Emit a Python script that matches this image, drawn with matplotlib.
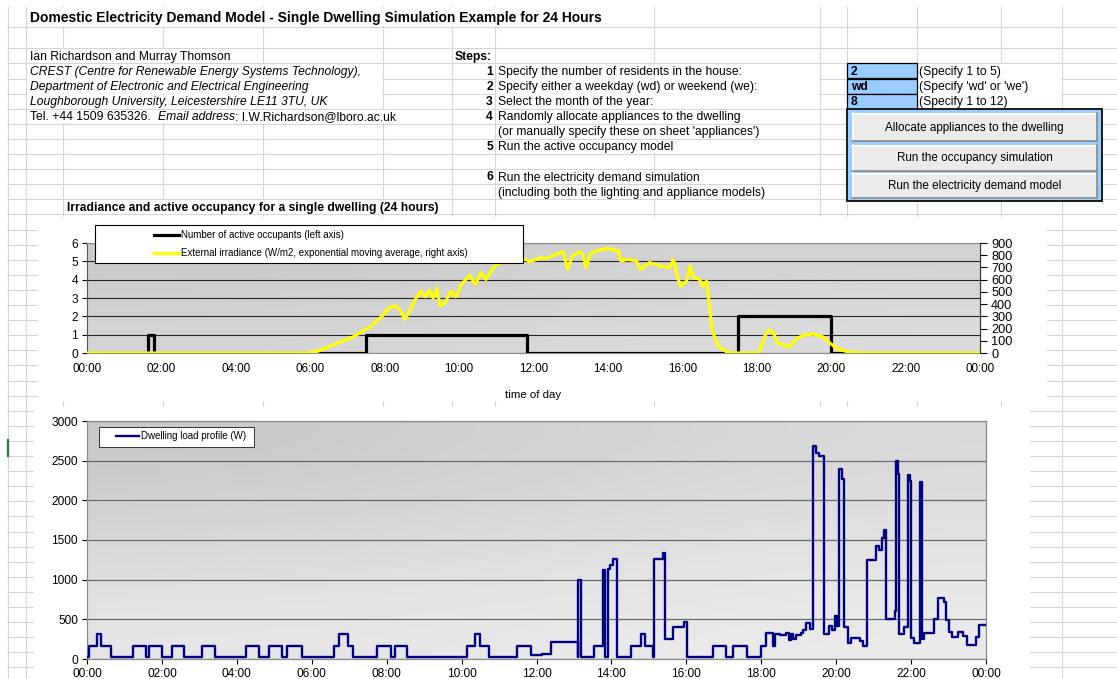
import numpy as np
import matplotlib
matplotlib.use("Agg")
import matplotlib.pyplot as plt
from matplotlib.patches import Rectangle
from matplotlib.lines import Line2D

plt.rcParams["font.family"] = ["Liberation Sans", "DejaVu Sans"]

W, H = 1117, 679

# x axis: hour of day
hour_ticks = list(range(0, 25, 2))
hour_labels = ["00:00", "02:00", "04:00", "06:00", "08:00", "10:00", "12:00",
               "14:00", "16:00", "18:00", "20:00", "22:00", "00:00"]

# number of active occupants (step changes, hours)
occ_t = [0.0, 1.63, 1.80, 7.50, 11.83, 17.50, 20.00, 24.0]
occ_n = [0, 1, 0, 1, 0, 2, 0, 0]

# external irradiance, W/m2
irr_t = [0.0, 5.9, 6.2, 6.6, 7.16, 7.64, 7.92, 8.11, 8.30, 8.44, 8.54, 8.63, 8.82,
         8.97, 9.10, 9.20, 9.30, 9.40, 9.49, 9.63, 9.77, 9.91, 10.06, 10.29, 10.44,
         10.58, 10.72, 10.96, 11.24, 11.43, 11.72, 11.90, 12.19, 12.35, 12.55, 12.79,
         12.92, 13.04, 13.24, 13.33, 13.41, 13.53, 13.68, 13.98, 14.28, 14.35, 14.52,
         14.77, 14.87, 15.12, 15.41, 15.66, 15.76, 15.86, 15.96, 16.11, 16.21, 16.30,
         16.45, 16.55, 16.65, 16.72, 16.80, 16.95, 17.19, 17.39, 18.05, 18.23, 18.33,
         18.43, 18.58, 18.88, 19.07, 19.27, 19.52, 19.77, 19.96, 20.16, 20.46, 20.85,
         24.0]
irr_w = [0, 0, 14, 64, 133, 221, 298, 367, 387, 340, 276, 320, 437,
         506, 459, 514, 450, 533, 387, 414, 506, 459, 561, 636, 561,
         658, 602, 713, 754, 774, 780, 746, 780, 773, 800, 831,
         684, 795, 828, 809, 698, 809, 836, 856, 836, 753, 767,
         753, 684, 740, 712, 698, 767, 629, 546, 588, 712, 615,
         607, 546, 588, 408, 188, 63, 8, 0, 0, 146, 188,
         174, 77, 50, 119, 146, 155, 132, 83, 36, 8, 0,
         0]

# dwelling load profile, W (step changes, hours)
load_t = [0.00, 0.05, 0.26, 0.38, 0.64, 1.24, 1.57, 1.65, 2.00, 2.27, 2.60, 3.08,
          3.43, 4.24, 4.59, 4.86, 5.21, 5.33, 5.73, 6.60, 6.73, 6.97, 7.10, 7.74,
          8.12, 8.21, 8.55, 10.14, 10.36, 10.48, 10.73, 11.48, 11.84, 12.14, 12.38,
          13.10, 13.12, 13.18, 13.54, 13.77, 13.83, 13.90, 13.96, 14.03, 14.15, 14.51,
          14.79, 14.89, 15.11, 15.15, 15.38, 15.44, 15.65, 15.95, 16.02, 16.71, 17.05,
          17.25, 17.62, 17.99, 18.14, 18.31, 18.36, 18.50, 18.65, 18.73, 18.80, 18.86,
          18.94, 19.05, 19.12, 19.20, 19.30, 19.39, 19.47, 19.54, 19.67, 19.82, 19.88,
          19.96, 20.03, 20.07, 20.16, 20.21, 20.31, 20.40, 20.63, 20.71, 20.82, 21.07,
          21.14, 21.22, 21.27, 21.34, 21.56, 21.60, 21.64, 21.68, 21.82, 21.93, 21.97,
          21.99, 22.07, 22.23, 22.28, 22.35, 22.62, 22.72, 22.87, 22.93, 23.01, 23.09,
          23.25, 23.38, 23.50, 23.72, 23.80, 24.00]
load_w = [30, 170, 316, 170, 30, 170, 30, 170, 30, 170, 30, 170,
          30, 170, 30, 170, 30, 170, 30, 170, 316, 170, 30, 170,
          30, 170, 30, 170, 316, 170, 30, 170, 45, 65, 210,
          30, 1000, 30, 165, 1120, 30, 1130, 1180, 1260, 30, 165,
          310, 165, 30, 1260, 1330, 250, 400, 470, 30, 165, 30,
          165, 30, 165, 330, 170, 320, 300, 330, 240, 320, 250,
          300, 330, 360, 450, 380, 2680, 2600, 2560, 320, 420, 360,
          540, 420, 2400, 2270, 400, 200, 260, 230, 160, 1250, 1420,
          1380, 1530, 1620, 500, 600, 2490, 2330, 320, 400, 2320, 2250,
          270, 200, 2230, 250, 330, 500, 770, 720, 490, 340, 280,
          340, 290, 180, 280, 430, 430]

# spreadsheet layout (pixels)
grid_c = "#d6d6d6"
row_lines = [27] + [48.3 + 15.1 * k for k in range(42)]
col_lines = [8, 26, 63, 163, 263, 383, 452, 495, 654, 820, 847, 917, 1001, 1062]


def row_y(k):
    # vertical centre of spreadsheet row k (k=0 -> "Ian Richardson" row)
    return 48.3 + 15.1 * k + 8.4


def fx(x):
    return x / W


def fy(y):
    return 1 - y / H


fig = plt.figure(figsize=(W / 100, H / 100), dpi=100)
bg = fig.add_axes([0, 0, 1, 1])
bg.set_xlim(0, W)
bg.set_ylim(H, 0)
bg.axis("off")

for y in row_lines:
    bg.plot([8, W], [y, y], color=grid_c, lw=0.8, zorder=1)
for x in col_lines:
    bg.plot([x, x], [7, H], color=grid_c, lw=0.8, zorder=1)

# cells whose text spills over into the next columns hide the gridlines
spill = [(26, 654, 7, 27), (26, 263, 48.3, 63.4), (26, 383, 63.4, 78.5),
         (26, 383, 78.5, 93.6), (26, 383, 93.6, 108.7), (26, 452, 108.7, 123.8)]
for k in [1, 2, 3, 4, 5, 6, 8, 9]:
    spill.append((495, 820, 48.3 + 15.1 * k, 48.3 + 15.1 * (k + 1)))
for k in [1, 2, 3]:
    spill.append((917, 1062, 48.3 + 15.1 * k, 48.3 + 15.1 * (k + 1)))
spill.append((63, 452, 199.3, 214.4))
for x0, x1, y0, y1 in spill:
    bg.add_patch(Rectangle((x0 + 0.8, y0 + 0.8), x1 - x0 - 1.6, y1 - y0 - 1.6,
                           fc="white", lw=0, zorder=2))

fs = 8.7
bg.text(30, 18, "Domestic Electricity Demand Model - Single Dwelling Simulation Example for 24 Hours",
        fontsize=10.0, fontweight="bold", va="center", zorder=5)
bg.text(30, row_y(0), "Ian Richardson and Murray Thomson", fontsize=fs, va="center", zorder=5)
bg.text(30, row_y(1), "CREST (Centre for Renewable Energy Systems Technology),",
        fontsize=fs, style="italic", va="center", zorder=5)
bg.text(30, row_y(2), "Department of Electronic and Electrical Engineering",
        fontsize=fs, style="italic", va="center", zorder=5)
bg.text(30, row_y(3), "Loughborough University, Leicestershire LE11 3TU, UK",
        fontsize=fs, style="italic", va="center", zorder=5)

# the contact line mixes upright and italic runs: chain them one after another
renderer = fig.canvas.get_renderer()
x_run = 30
for part, st in [("Tel. +44 1509 635326. ", "normal"), ("Email address", "italic"),
                 (": I.W.Richardson@lboro.ac.uk", "normal")]:
    t = bg.text(x_run, row_y(4), part, fontsize=fs, style=st, va="center", zorder=5)
    x_run = t.get_window_extent(renderer).x1 + (4 if part.endswith(" ") else 0)

bg.text(455, row_y(0), "Steps:", fontsize=fs, fontweight="bold", va="center", zorder=5)
steps = [(1, "1", "Specify the number of residents in the house:"),
         (2, "2", "Specify either a weekday (wd) or weekend (we):"),
         (3, "3", "Select the month of the year:"),
         (4, "4", "Randomly allocate appliances to the dwelling"),
         (5, "", "(or manually specify these on sheet 'appliances')"),
         (6, "5", "Run the active occupancy model"),
         (8, "6", "Run the electricity demand simulation"),
         (9, "", "(including both the lighting and appliance models)")]
for k, num, txt in steps:
    if num:
        bg.text(493, row_y(k), num, fontsize=fs, fontweight="bold", ha="right",
                va="center", zorder=5)
    bg.text(498, row_y(k), txt, fontsize=fs, va="center", zorder=5)

cell_blue = "#99ccff"
inputs = [(1, "2", "(Specify 1 to 5)"), (2, "wd", "(Specify 'wd' or 'we')"),
          (3, "8", "(Specify 1 to 12)")]
for k, val, hint in inputs:
    y0 = 48.3 + 15.1 * k
    bg.add_patch(Rectangle((847, y0), 70, 15.1, fc=cell_blue, ec="black", lw=0.9, zorder=4))
    bg.text(851, row_y(k), val, fontsize=fs, fontweight="bold", va="center", zorder=5)
    bg.text(919, row_y(k), hint, fontsize=fs, va="center", zorder=5)

# macro button panel
bg.add_patch(Rectangle((847, 109), 255, 92, fc=cell_blue, ec="#1a1a1a", lw=1.4, zorder=4))
buttons = [(113, 141, "Allocate appliances to the dwelling"),
           (145, 171, "Run the occupancy simulation"),
           (173, 198, "Run the electricity demand model")]
for y0, y1, label in buttons:
    bg.add_patch(Rectangle((852, y0), 245, y1 - y0, fc="#ebebeb", ec="none", zorder=5))
    bg.plot([852, 1097], [y0 + 0.5, y0 + 0.5], color="white", lw=1.2, zorder=6)
    bg.plot([852.5, 852.5], [y0, y1], color="white", lw=1.2, zorder=6)
    bg.plot([852, 1097], [y1 - 0.5, y1 - 0.5], color="#8a8a8a", lw=1.2, zorder=6)
    bg.plot([1096.5, 1096.5], [y0, y1], color="#8a8a8a", lw=1.2, zorder=6)
    bg.text(974.5, (y0 + y1) / 2 + 0.5, label, fontsize=8.4, ha="center", va="center", zorder=7)

bg.text(67, 207.5, "Irradiance and active occupancy for a single dwelling (24 hours)",
        fontsize=fs, fontweight="bold", va="center", zorder=5)

# chart areas
bg.add_patch(Rectangle((38, 217), 1009, 184, fc="white", lw=0, zorder=3))
bg.add_patch(Rectangle((34, 407), 996, 280, fc="white", lw=0, zorder=3))
bg.plot([8, 8], [440, 456], color="#1d7a45", lw=1.6, zorder=4)

# ---- top chart: occupancy + irradiance ----
ax1 = fig.add_axes([fx(87), fy(353), fx(980 - 87), (353 - 243) / H])
ax1.imshow([[0.79, 0.83], [0.83, 0.86]], cmap="gray", vmin=0, vmax=1,
           extent=(0, 24, 0, 6), aspect="auto", interpolation="bicubic", zorder=0)
ax1.step(occ_t, occ_n, where="post", color="black", lw=2.3, zorder=3)
ax1.set_xlim(0, 24)
ax1.set_ylim(0, 6)
ax1.set_yticks(range(7))
ax1.set_xticks(hour_ticks)
ax1.set_xticklabels(hour_labels)
ax1.yaxis.grid(True, color="#262626", lw=0.8)
ax1.set_axisbelow(True)
ax1.tick_params(axis="y", direction="out", length=3.5, width=0.8, labelsize=8.6, pad=3)
ax1.tick_params(axis="x", length=0, labelsize=8.4, pad=7)
for s in ax1.spines.values():
    s.set_color("#8c8c8c")
    s.set_linewidth(0.8)
ax1.spines["left"].set_color("#555555")
ax1.set_xlabel("time of day", fontsize=8.2, labelpad=11)

ax1r = ax1.twinx()
ax1r.plot(irr_t, irr_w, color="#ffff00", lw=2.3, solid_joinstyle="round", zorder=3)
ax1r.set_ylim(0, 900)
ax1r.set_yticks(range(0, 901, 100))
ax1r.tick_params(axis="y", direction="out", length=5, width=0.8, labelsize=9.2, pad=3)
ax1r.spines["right"].set_color("#333333")
for side in ["top", "left", "bottom"]:
    ax1r.spines[side].set_visible(False)

fig.patches.append(Rectangle((fx(95), fy(263)), fx(523 - 95), (263 - 225) / H,
                             transform=fig.transFigure, fc="white", ec="black",
                             lw=0.8, zorder=4))
fig.legend(handles=[Line2D([], [], color="black", lw=2.3),
                    Line2D([], [], color="#ffff00", lw=2.3)],
           labels=["Number of active occupants (left axis)",
                   "External irradiance (W/m2, exponential moving average, right axis)"],
           loc="upper left", bbox_to_anchor=(fx(154), fy(230)), frameon=False,
           fontsize=7, handlelength=2.6, handletextpad=0.15, labelspacing=0.85,
           borderpad=0, borderaxespad=0)

# ---- bottom chart: dwelling load ----
ax2 = fig.add_axes([fx(87), fy(659), fx(986 - 87), (659 - 421) / H])
ax2.imshow([[0.78, 0.85], [0.90, 0.92]], cmap="gray", vmin=0, vmax=1,
           extent=(0, 24, 0, 3000), aspect="auto", interpolation="bicubic", zorder=0)
ax2.step(load_t, load_w, where="post", color="#000080", lw=1.7, zorder=3)
ax2.set_xlim(0, 24)
ax2.set_ylim(0, 3000)
ax2.set_yticks(range(0, 3001, 500))
ax2.set_xticks(hour_ticks)
ax2.set_xticklabels(hour_labels)
ax2.yaxis.grid(True, color="#6a6a6a", lw=0.9)
ax2.set_axisbelow(True)
ax2.tick_params(axis="y", direction="out", length=3.5, width=0.8, labelsize=8.6, pad=3)
ax2.tick_params(axis="x", direction="out", length=3.5, width=0.8, labelsize=8.6, pad=3)
for s in ax2.spines.values():
    s.set_color("#8c8c8c")
    s.set_linewidth(0.9)

fig.patches.append(Rectangle((fx(99), fy(447)), fx(254 - 99), (447 - 427) / H,
                             transform=fig.transFigure, fc="white", ec="#333333",
                             lw=0.7, zorder=4))
fig.legend(handles=[Line2D([], [], color="#000080", lw=1.7)],
           labels=["Dwelling load profile (W)"],
           loc="upper left", bbox_to_anchor=(fx(116), fy(431)), frameon=False,
           fontsize=7, handlelength=2.4, handletextpad=0.15,
           borderpad=0, borderaxespad=0)

fig.savefig("out.png", dpi=100)
